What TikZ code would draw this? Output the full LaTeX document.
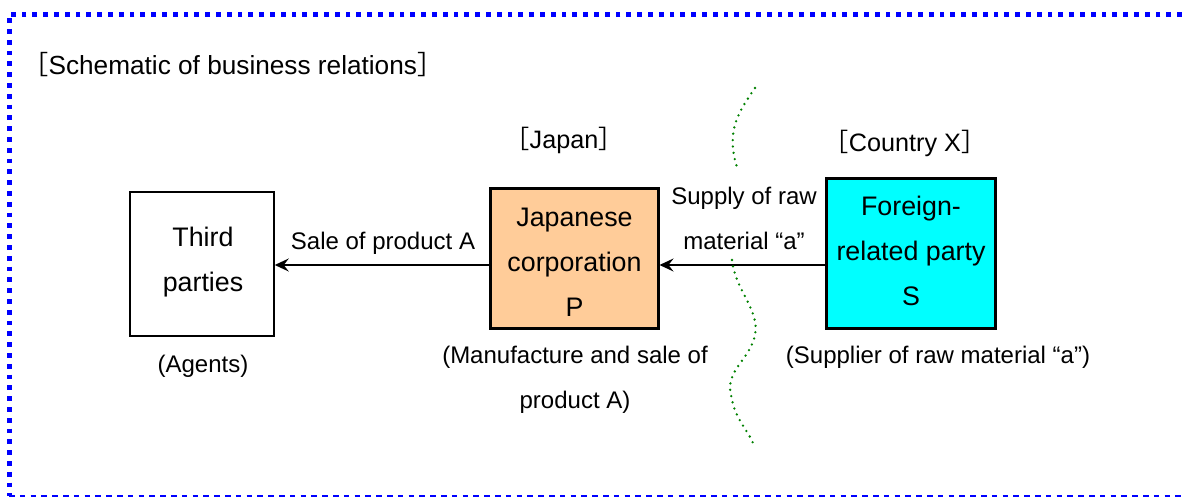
\documentclass[tikz,border=0pt]{standalone}
\usepackage{fontspec}
\setmainfont{Liberation Sans}
\newfontfamily\cjk{Noto Sans CJK JP}
\usetikzlibrary{arrows.meta}
\begin{document}
\begin{tikzpicture}[x=0.5pt,y=-0.5pt,
  txt/.style={font=\fontsize{12}{22.5}\selectfont, align=center, inner sep=0pt},
  htxt/.style={font=\fontsize{12.6}{15}\selectfont, align=center, inner sep=0pt},
  btxt/.style={font=\fontsize{13.4}{22.5}\selectfont, align=center, inner sep=0pt},
  boxthin/.style={draw=black, line width=0.75pt, fill=white},
  boxthick/.style={draw=black, line width=1.5pt},
  conn/.style={draw=black, line width=0.75pt, -{Stealth[length=7pt,width=6.5pt,inset=2.5pt]}},
  wave/.style={draw=green!50!black, line width=1.3pt, line cap=round, dash pattern=on 0pt off 3.2pt}
]
\useasboundingbox (0,0) rectangle (1182,498);
% border
\draw[blue, line width=2.5pt, dash pattern=on 2.4pt off 3pt] (1182,14) -- (9,14) -- (9,496);
\draw[blue, line width=1.1pt, dash pattern=on 2.8pt off 2.6pt] (9,496) -- (1182,496);

\node[font=\fontsize{13.1}{15}\selectfont, inner sep=0pt, anchor=west] (title) at (22,65) {{\cjk［}Schematic of business relations{\cjk］}};
\node[htxt] (jp) at (564,140) {{\cjk［}Japan{\cjk］}};
\node[htxt] (cx) at (905,143) {{\cjk［}Country X{\cjk］}};

\node[boxthin, minimum width=72pt, minimum height=72pt] (T) at (202,264) {};
\node[btxt] (Tt) at (203,262) {Third\\parties};
\node[boxthick, fill={rgb,255:red,255;green,204;blue,153}, minimum width=84pt, minimum height=70pt] (P) at (574,258) {};
\node[btxt] (Pt) at (574.5,262) {Japanese\\corporation\\P};
\node[boxthick, fill={rgb,255:red,0;green,255;blue,255}, minimum width=84.5pt, minimum height=75pt] (S) at (910.5,253) {};
\node[btxt] (St) at (911,251) {Foreign-\\related party\\S};

\draw[conn] (P.west |- 0,265) -- (T.east |- 0,265);
\draw[conn] (S.west |- 0,265) -- (P.east |- 0,265);

\node[txt] (l1) at (383,243) {Sale of product A};
\node[txt] (l2) at (744,218) {Supply of raw\\material “a”};

\node[txt] (ag) at (203,366) {(Agents)};
\node[txt] (mf) at (575,380) {(Manufacture and sale of\\product A)};
\node[txt] (sp) at (938,357) {(Supplier of raw material “a”)};

\draw[wave] (755,88) .. controls (740,110) and (725,130) .. (737,167);
\draw[wave] (732,260) .. controls (735,290) and (760,310) .. (755,335) .. controls (750,360) and (725,370) .. (731,395) .. controls (735,420) and (748,430) .. (753,443);
\end{tikzpicture}
\end{document}
